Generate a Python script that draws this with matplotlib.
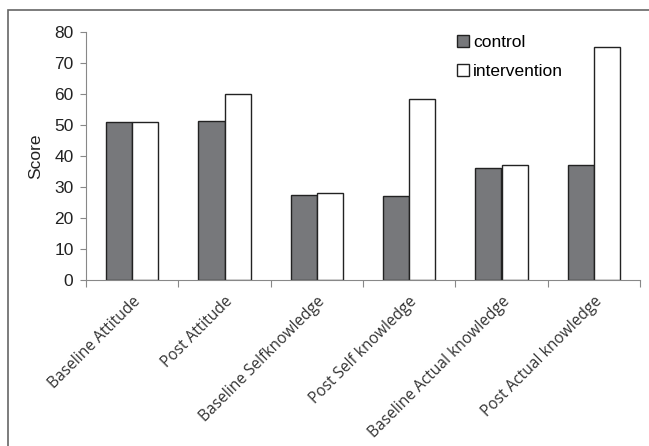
import numpy as np
import matplotlib
matplotlib.use("Agg")
import matplotlib.pyplot as plt
from matplotlib.patches import Rectangle

categories = ["Baseline Attitude", "Post Attitude", "Baseline Selfknowledge",
              "Post Self knowledge", "Baseline Actual knowledge", "Post Actual knowledge"]
control = [51, 51.3, 27.3, 27, 36, 37.2]
intervention = [51, 60, 28, 58.5, 37, 75]

plt.rcParams["font.family"] = ["Liberation Sans", "DejaVu Sans"]

fig = plt.figure(figsize=(6.49, 4.46), dpi=100)
ax = fig.add_axes([86/649, 1-280/446, (640-86)/649, (280-32)/446])

# outer frame around the whole chart
fig.patches.append(Rectangle((8/649, -0.1), 1.2, 1-10/446+0.1, transform=fig.transFigure,
                             fill=False, edgecolor="#666666", linewidth=1.2))

x = np.arange(len(categories)) + 0.5
w = 0.285
ax.bar(x - w/2, control, w, color="#77787b", edgecolor="#222222", linewidth=1.0, label="control")
ax.bar(x + w/2, intervention, w, color="white", edgecolor="#222222", linewidth=1.0, label="intervention")

ax.set_xlim(0, len(categories))
ax.set_ylim(0, 80)
ax.set_yticks(range(0, 81, 10))
ax.set_xticks(range(0, len(categories) + 1))
ax.set_xticklabels([])
ax.tick_params(axis="x", length=5, color="#888888")
ax.tick_params(axis="y", length=4, color="#888888", labelsize=12.5, pad=5, labelcolor="#222222")
for s in ["top", "right"]:
    ax.spines[s].set_visible(False)
for s in ["left", "bottom"]:
    ax.spines[s].set_color("#888888")

for i, c in enumerate(categories):
    ax.text(x[i] + 0.0, -4.3, c, rotation=45, ha="right", va="top", fontsize=11.2,
            family="Open Sans", color="#333333", rotation_mode="anchor")

ax.set_ylabel("Score", fontsize=12.5, labelpad=8, color="#222222")

leg = ax.legend(loc="upper left", bbox_to_anchor=(0.642, 1.05), frameon=False, fontsize=12.5,
                handlelength=0.7, handleheight=0.7, handletextpad=0.2, labelspacing=0.8)

fig.savefig("out.png", dpi=100)
